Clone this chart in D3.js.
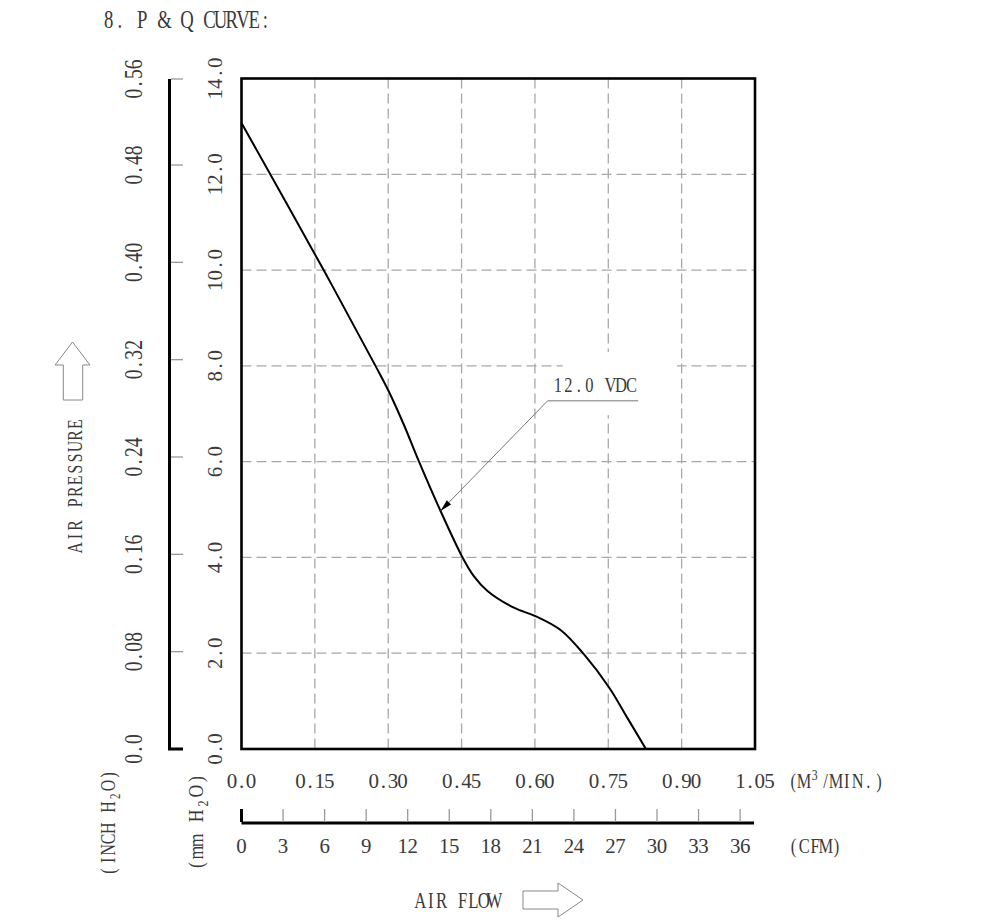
<!DOCTYPE html>
<html><head><meta charset="utf-8">
<script src="https://cdn.jsdelivr.net/npm/d3@7"></script>
<style>
body{margin:0;background:#fff}
text{font-family:"Liberation Serif","Times New Roman",serif;fill:#3a3a3a}
</style>
</head><body>
<svg id="chart" width="1000" height="921"></svg>
<script>
// ---------- data ----------
const flowM3     = [0, 0.168, 0.274, 0.302, 0.332, 0.363, 0.407, 0.452, 0.475, 0.503, 0.557, 0.602, 0.653, 0.700, 0.752, 0.789, 0.827];
const pressureMM = [13.07, 10.0, 8.0, 7.45, 6.77, 6.0, 4.97, 4.0, 3.61, 3.30, 2.95, 2.77, 2.48, 1.98, 1.28, 0.65, 0];

const flowTicks   = [0, 0.15, 0.30, 0.45, 0.60, 0.75, 0.90, 1.05];
const flowLabels  = ["0.0", "0.15", "0.30", "0.45", "0.60", "0.75", "0.90", "1.05"];
const mmTicks     = [0, 2, 4, 6, 8, 10, 12, 14];
const mmLabels    = ["0.0", "2.0", "4.0", "6.0", "8.0", "10.0", "12.0", "14.0"];
const inchTicks   = [0, 0.08, 0.16, 0.24, 0.32, 0.40, 0.48, 0.56];
const inchLabels  = ["0.0", "0.08", "0.16", "0.24", "0.32", "0.40", "0.48", "0.56"];
const cfmTicks    = [0, 3, 6, 9, 12, 15, 18, 21, 24, 27, 30, 33, 36];
const cfmLabels   = ["0", "3", "6", "9", "12", "15", "18", "21", "24", "27", "30", "33", "36"];

const seriesName  = "12.0 VDC";
const annotTip    = [0.407, 4.97];   // arrow tip on curve (m3/min, mmH2O)
const annotKnee   = [0.626, 7.27];
const annotEnd    = [0.811, 7.27];
const labelMask   = [0.657, 0.8905, 8.29, 6.97]; // x0,x1,y0,y1 in data units
const CFM_PER_M3  = 35.31;

// ---------- scales ----------
const x    = d3.scaleLinear().domain([0, 1.05]).range([241.5, 755]);
const y    = d3.scaleLinear().domain([0, 14]).range([749, 78.5]);
const yIn  = d3.scaleLinear().domain([0, 0.48, 0.56]).range([749, 165, 79]);
const xCfm = d3.scaleLinear().domain([0, 1.05 * CFM_PER_M3]).range([241.5, 755]);

const svg = d3.select("#chart");

// monospace-like text helper (each char in equal cell)
function mtext(g, parts, o) {
  if (typeof parts === "string") parts = [{t: parts}];
  const n = d3.sum(parts, p => p.t.length);
  const sx = o.sx || 1;
  const a = o.adv / sx;
  const start = o.anchor === "middle" ? -n * a / 2 : (o.anchor === "end" ? -n * a : 0);
  const xs = d3.range(n).map(i => (start + (i + 0.5) * a).toFixed(2)).join(" ");
  const t = g.append("text")
    .attr("transform", `translate(${o.x},${o.y})` + (o.rot ? ` rotate(${o.rot})` : "") + (sx !== 1 ? ` scale(${sx},1)` : ""))
    .attr("x", xs).attr("text-anchor", "middle").attr("font-size", o.size);
  parts.forEach(p => {
    const s = t.append("tspan").text(p.t);
    if (p.dy) s.attr("dy", p.dy);
    if (p.size) s.attr("font-size", p.size);
  });
  return t;
}

// ---------- title ----------
mtext(svg, "8. P & Q CURVE:", {x: 103, y: 28, size: 26, sx: 0.72, adv: 11.2});

// ---------- grid ----------
const grid = svg.append("g").attr("stroke", "#a8a8a8").attr("stroke-width", 1.3).attr("stroke-dasharray", "10,5").attr("fill", "none");
grid.selectAll("line.v").data(flowTicks.slice(1, -1)).join("line")
  .attr("x1", d => x(d)).attr("x2", d => x(d)).attr("y1", y(14)).attr("y2", y(0));
grid.selectAll("line.h").data(mmTicks.slice(1, -1)).join("line")
  .attr("y1", d => y(d)).attr("y2", d => y(d)).attr("x1", x(0)).attr("x2", x(1.05));

// white mask behind series label
svg.append("rect")
  .attr("x", x(labelMask[0])).attr("width", x(labelMask[1]) - x(labelMask[0]))
  .attr("y", y(labelMask[2])).attr("height", y(labelMask[3]) - y(labelMask[2]))
  .attr("fill", "#fff");

// ---------- curve ----------
const pts = flowM3.map((q, i) => [q, pressureMM[i]]);
svg.append("path").datum(pts)
  .attr("d", d3.line().x(d => x(d[0])).y(d => y(d[1])).curve(d3.curveCatmullRom.alpha(0.5)))
  .attr("fill", "none").attr("stroke", "#000").attr("stroke-width", 2);

// ---------- frame ----------
svg.append("rect")
  .attr("x", x(0)).attr("y", y(14)).attr("width", x(1.05) - x(0)).attr("height", y(0) - y(14))
  .attr("fill", "none").attr("stroke", "#000").attr("stroke-width", 2.6);

// ---------- annotation ----------
const tip = [x(annotTip[0]), y(annotTip[1])], knee = [x(annotKnee[0]), y(annotKnee[1])], end = [x(annotEnd[0]), y(annotEnd[1])];
svg.append("path").attr("d", `M${tip}L${knee}L${end}`).attr("fill", "none").attr("stroke", "#777").attr("stroke-width", 1);
const ang = Math.atan2(tip[1] - knee[1], tip[0] - knee[0]) * 180 / Math.PI;
svg.append("path").attr("d", "M0,0L-12,-3L-12,3Z").attr("fill", "#000")
  .attr("transform", `translate(${tip}) rotate(${ang})`);
mtext(svg, seriesName, {x: knee[0] + 5, y: knee[1] - 9, size: 22, sx: 0.75, adv: 10.5});

// ---------- mm axis labels ----------
mmTicks.forEach((v, i) => mtext(svg, mmLabels[i], {x: 222, y: y(v), rot: -90, size: 22, sx: 0.95, adv: 10.5, anchor: "middle"}));

// ---------- inch axis ----------
svg.append("path").attr("d", `M183,${yIn(0)}H169.5V${yIn(0.56)}`).attr("fill", "none").attr("stroke", "#000").attr("stroke-width", 3);
svg.append("g").selectAll("line").data(inchTicks.slice(1)).join("line")
  .attr("x1", 171).attr("x2", 183).attr("y1", d => yIn(d)).attr("y2", d => yIn(d))
  .attr("stroke", "#999").attr("stroke-width", 1.3);
inchTicks.forEach((v, i) => mtext(svg, inchLabels[i], {x: 142, y: yIn(v), rot: -90, size: 26, sx: 0.75, adv: 9.8, anchor: "middle"}));

// ---------- flow (m3/min) labels ----------
flowTicks.forEach((v, i) => mtext(svg, flowLabels[i], {x: x(v), y: 788, size: 21, sx: 1, adv: 9.6, anchor: "middle"}));
mtext(svg, [{t: "(M"}, {t: "3", dy: -8, size: 15}, {t: "/MIN.)", dy: 8}], {x: 788, y: 788, size: 21, sx: 0.78, adv: 10.7});

// ---------- CFM axis ----------
svg.append("line").attr("x1", xCfm(0)).attr("x2", 754).attr("y1", 823).attr("y2", 823).attr("stroke", "#000").attr("stroke-width", 3);
svg.append("g").selectAll("line").data(cfmTicks).join("line")
  .attr("x1", d => xCfm(d)).attr("x2", d => xCfm(d)).attr("y1", 809).attr("y2", 822)
  .attr("stroke", d => d === 0 ? "#000" : "#999").attr("stroke-width", d => d === 0 ? 3 : 1.3);
cfmTicks.forEach((v, i) => mtext(svg, cfmLabels[i], {x: xCfm(v), y: 853, size: 22, sx: 0.95, adv: 10, anchor: "middle"}));
mtext(svg, "(CFM)", {x: 788, y: 853, size: 22, sx: 0.75, adv: 10.8});

// ---------- unit labels ----------
mtext(svg, [{t: "(INCH H"}, {t: "2", dy: 5, size: 15}, {t: "O)", dy: -5}], {x: 115, y: 823, rot: -90, size: 22, sx: 0.72, adv: 10.7, anchor: "middle"});
mtext(svg, [{t: "(mm H"}, {t: "2", dy: 5, size: 15}, {t: "O)", dy: -5}], {x: 203, y: 822, rot: -90, size: 22, sx: 0.8, adv: 12.3, anchor: "middle"});

// ---------- axis titles with arrows ----------
mtext(svg, "AIR PRESSURE", {x: 82, y: 486, rot: -90, size: 22, sx: 0.72, adv: 11.25, anchor: "middle"});
svg.append("path").attr("d", "M72.5,342L90,365H82.7V400H63.3V365H55Z").attr("fill", "#fff").attr("stroke", "#888").attr("stroke-width", 1);

mtext(svg, "AIR FLOW", {x: 415, y: 908, size: 24, sx: 0.7, adv: 10.6});
svg.append("path").attr("d", "M523,891H558V883L583,900L558,917V909H523Z").attr("fill", "#fff").attr("stroke", "#888").attr("stroke-width", 1);
</script>
</body></html>
